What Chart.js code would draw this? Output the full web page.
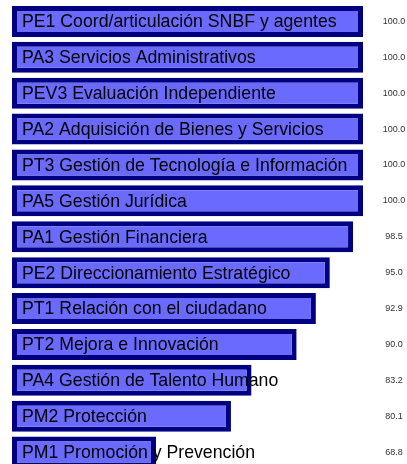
<!DOCTYPE html>
<html>
<head>
<meta charset="utf-8">
<script src="https://cdn.jsdelivr.net/npm/chart.js@4/dist/chart.umd.min.js"></script>
<style>
    html, body { margin: 0; padding: 0; background: #ffffff; overflow: hidden; }
    #wrap { width: 407px; height: 474px; }
</style>
</head>
<body>
<div id="wrap"><canvas id="procesosChart" width="407" height="474"></canvas></div>
<script>
// Process names and scores
const categories = [
    'PE1 Coord/articulación SNBF y agentes',
    'PA3 Servicios Administrativos',
    'PEV3 Evaluación Independiente',
    'PA2 Adquisición de Bienes y Servicios',
    'PT3 Gestión de Tecnología e Información',
    'PA5 Gestión Jurídica',
    'PA1 Gestión Financiera',
    'PE2 Direccionamiento Estratégico',
    'PT1 Relación con el ciudadano',
    'PT2 Mejora e Innovación',
    'PA4 Gestión de Talento Humano',
    'PM2 Protección',
    'PM1 Promoción y Prevención'
];
const scores = [100.0, 100.0, 100.0, 100.0, 100.0, 100.0, 98.5, 95.0, 92.9, 90.0, 83.2, 80.1, 68.8];
const axisMin = 47.1;
const axisMax = 100;

// Draw category names over the bars and the score at the right
const labelsPlugin = {
    id: 'barLabels',
    afterDatasetsDraw(chart) {
        const ctx = chart.ctx;
        const meta = chart.getDatasetMeta(0);
        ctx.save();
        ctx.textBaseline = 'middle';
        meta.data.forEach((bar, i) => {
            ctx.font = '17.7px "Liberation Sans", Arial, sans-serif';
            ctx.fillStyle = '#000000';
            ctx.textAlign = 'left';
            ctx.fillText(categories[i], chart.chartArea.left + 10, bar.y + 1);

            ctx.font = '9px "Liberation Sans", Arial, sans-serif';
            ctx.fillStyle = '#333333';
            ctx.textAlign = 'center';
            ctx.fillText(scores[i].toFixed(1), chart.chartArea.right + 31, bar.y);
        });
        ctx.restore();
    }
};

const ctx = document.getElementById('procesosChart').getContext('2d');
new Chart(ctx, {
    type: 'bar',
    data: {
        labels: categories,
        datasets: [{
            data: scores,
            base: axisMin,
            backgroundColor: '#6a6aff',
            borderColor: '#000080',
            borderWidth: 5,
            borderSkipped: false,
            categoryPercentage: 1,
            barPercentage: 0.864
        }]
    },
    options: {
        indexAxis: 'y',
        responsive: false,
        animation: false,
        layout: {
            padding: { left: 12, right: 44, top: 3.5, bottom: 4 }
        },
        plugins: {
            legend: { display: false },
            tooltip: { enabled: false }
        },
        scales: {
            x: {
                display: false,
                min: axisMin,
                max: axisMax
            },
            y: {
                display: false
            }
        }
    },
    plugins: [labelsPlugin]
});
</script>
</body>
</html>
